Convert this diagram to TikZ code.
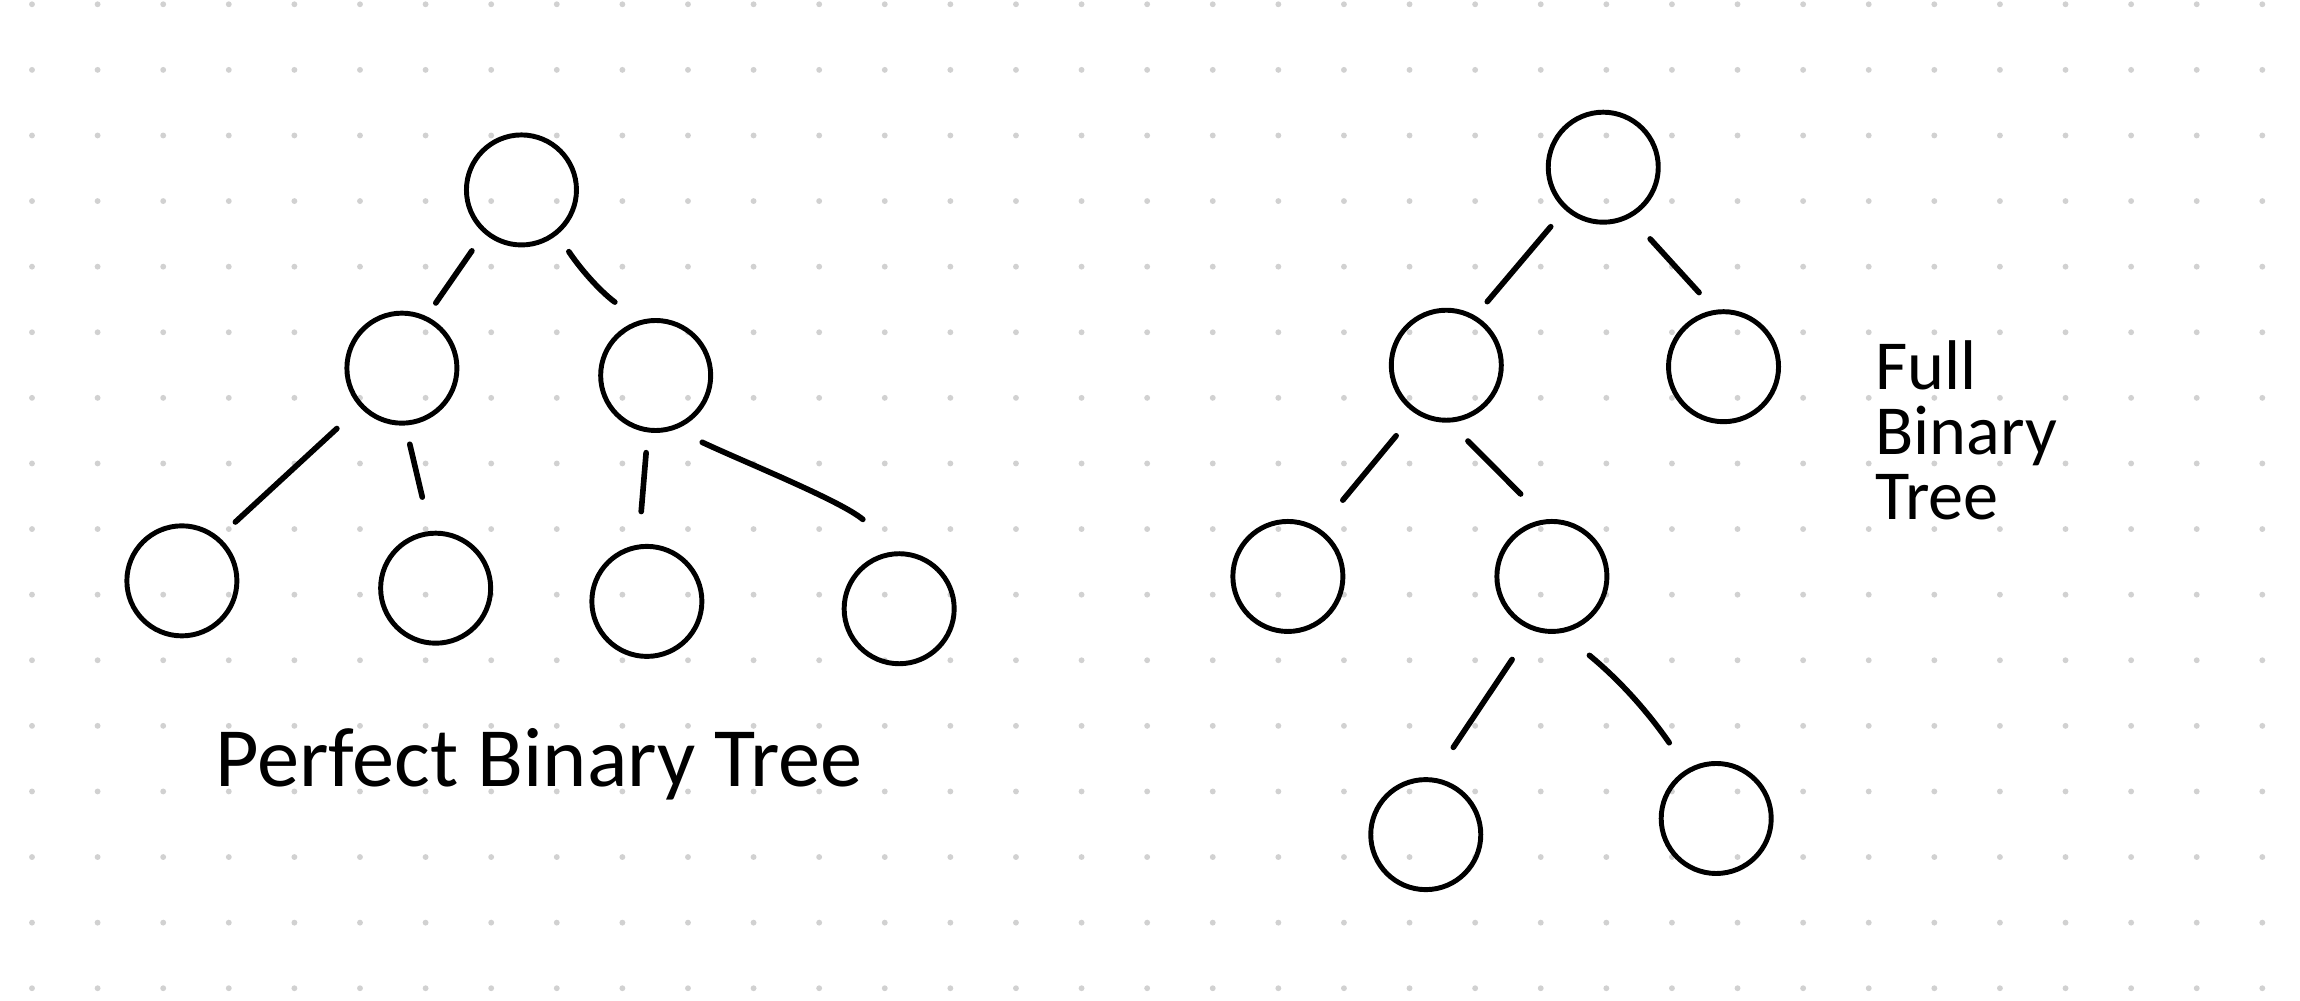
\documentclass[tikz,border=0pt]{standalone}
\usepackage{fontspec}
\setmainfont{Carlito}
\usepackage{tikz}
\definecolor{dcdcdc}{rgb}{0.82,0.82,0.82}
\definecolor{qqqqqq}{rgb}{0.,0.,0.}

\begin{document}
\begin{tikzpicture}[line cap=round,line join=round,x=0.014668cm,y=0.014668cm,
  vertex/.style={circle,draw=qqqqqq,line width=1.4pt,minimum size=1.1cm,inner sep=0pt,outer sep=0pt},
  branch/.style={draw=qqqqqq,line width=1.6pt},
  trimto/.style 2 args={shorten <=#1*0.014668cm,shorten >=#2*0.014668cm},
  hand/.style={inner sep=0pt,text=qqqqqq}]
\useasboundingbox (0,0) rectangle (1568,682);
\fill[white] (0,0) rectangle (1568,682);
% dot grid
\foreach \i in {0,...,34}
  \foreach \j in {0,...,15}
    \fill[dcdcdc] (21.82+44.72*\i,679.07-44.72*\j) circle (2.0);
% perfect binary tree
\node[vertex] (p1) at (355.5,552.5) {};
\node[vertex] (p2) at (274,431) {};
\node[vertex] (p3) at (447,426) {};
\node[vertex] (p4) at (124,286) {};
\node[vertex] (p5) at (297,281) {};
\node[vertex] (p6) at (441,272) {};
\node[vertex] (p7) at (613,267) {};
\draw[branch,trimto={16.1}{12.7}] (p1.-131.1) -- (p2.65.9);
\draw[branch,trimto={15.6}{23.2}] (p1.-51.4) to[bend right=10] (p3.104.3);
\draw[branch,trimto={23.0}{16.8}] (p2.-137.3) -- (p4.50.5);
\draw[branch,trimto={14.8}{25.4}] (p2.-87.6) -- (p5.95.6);
\draw[branch,trimto={15.5}{24.3}] (p3.-98) -- (p6.99.8);
\draw[branch,trimto={22.9}{36.6}] (p3.-73.4) to[out=-25,in=140,looseness=0.8] (p7.85.2);
\node[hand,anchor=base,font=\fontsize{24}{28}\selectfont] (perfect) at (367.5,146) {Perfect Binary Tree};
% full binary tree
\node[vertex] (f1) at (1093,568) {};
\node[vertex] (f2) at (986,433) {};
\node[vertex] (f3) at (1175,432) {};
\node[vertex] (f4) at (878,289) {};
\node[vertex] (f5) at (1058,289) {};
\node[vertex] (f6) at (972,113) {};
\node[vertex] (f7) at (1170,124) {};
\draw[branch,trimto={16.6}{14.2}] (f1.-132.2) -- (f2.60);
\draw[branch,trimto={21.3}{18.0}] (f1.-62.1) -- (f3.97.2);
\draw[branch,trimto={21.6}{26.7}] (f2.-123.2) -- (f4.57.1);
\draw[branch,trimto={20.0}{26.5}] (f2.-89.2) -- (f5.94.7);
\draw[branch,trimto={25.7}{26.7}] (f5.-110.4) -- (f6.84.6);
\draw[branch,trimto={26.3}{23.3}] (f5.-82.6) to[bend left=8] (f7.120.6);
\node[hand,anchor=north west,align=left,font=\fontsize{20}{18.4}\selectfont] (full) at (1278,450) {Full\\Binary\\Tree};
\end{tikzpicture}
\end{document}
